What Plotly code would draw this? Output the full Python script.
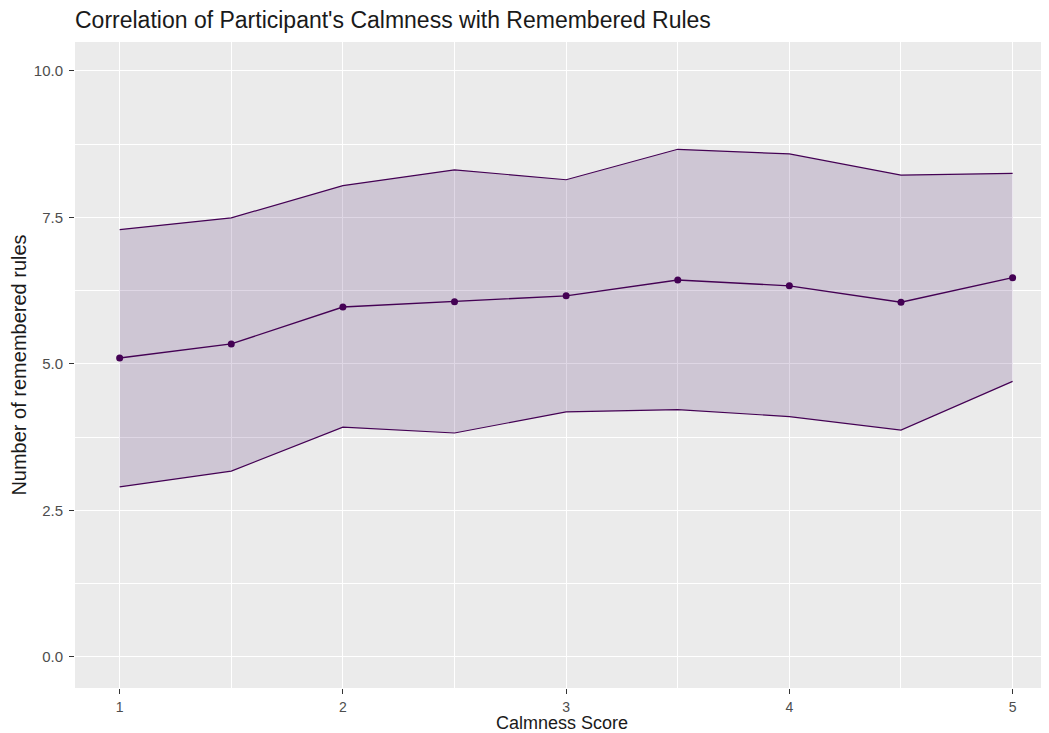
import plotly.graph_objects as go

calmness = [1, 1.5, 2, 2.5, 3, 3.5, 4, 4.5, 5]
mean_rules = [5.10, 5.34, 5.97, 6.06, 6.16, 6.43, 6.33, 6.05, 6.47]
upper_rules = [7.29, 7.49, 8.04, 8.31, 8.14, 8.66, 8.58, 8.22, 8.25]
lower_rules = [2.90, 3.17, 3.92, 3.82, 4.18, 4.22, 4.10, 3.87, 4.70]

x_ticks = [1, 2, 3, 4, 5]
y_ticks = [0.0, 2.5, 5.0, 7.5, 10.0]
y_tick_labels = ["0.0", "2.5", "5.0", "7.5", "10.0"]

purple = "#440154"

fig = go.Figure()
fig.add_trace(go.Scatter(x=calmness, y=lower_rules, mode="lines",
                         line=dict(color=purple, width=1.2), showlegend=False, hoverinfo="skip"))
fig.add_trace(go.Scatter(x=calmness, y=upper_rules, mode="lines",
                         line=dict(color=purple, width=1.2), fill="tonexty",
                         fillcolor="rgba(80,35,110,0.18)", showlegend=False, hoverinfo="skip"))
fig.add_trace(go.Scatter(x=calmness, y=mean_rules, mode="lines+markers",
                         line=dict(color=purple, width=1.4),
                         marker=dict(color=purple, size=7), showlegend=False))

W, H = 1041, 725
fig.update_layout(
    width=W, height=H,
    margin=dict(l=67, r=0, t=34, b=45),
    paper_bgcolor="white",
    plot_bgcolor="#EBEBEB",
    font=dict(family="Liberation Sans, Arial, sans-serif", color="#1a1a1a"),
    title=dict(text="Correlation of Participant's Calmness with Remembered Rules",
               x=67/W, xanchor="left", y=1 - 12/H, yanchor="middle",
               font=dict(size=23, color="#1a1a1a")),
)
fig.update_xaxes(
    range=[0.8, 5.163], tickvals=x_ticks, ticktext=[str(v) for v in x_ticks],
    showgrid=True, gridcolor="white", gridwidth=1.2, zeroline=False,
    minor=dict(dtick=0.5, tick0=0.5, showgrid=True, gridcolor="white", gridwidth=0.5, ticklen=0),
    ticks="outside", ticklen=5, tickcolor="#333333", tickwidth=1,
    ticklabelstandoff=1,
    tickfont=dict(size=14, color="#4d4d4d"),
    title=dict(text="Calmness Score", font=dict(size=18, color="#1a1a1a"), standoff=3),
    showline=False,
)
fig.update_yaxes(
    range=[-0.53, 10.49], tickvals=y_ticks, ticktext=y_tick_labels,
    showgrid=True, gridcolor="white", gridwidth=1.2, zeroline=False,
    minor=dict(dtick=2.5, tick0=1.25, showgrid=True, gridcolor="white", gridwidth=0.5, ticklen=0),
    ticks="outside", ticklen=5, tickcolor="#333333", tickwidth=1,
    ticklabelstandoff=3,
    tickfont=dict(size=15, color="#4d4d4d"),
    title=dict(text="Number of remembered rules", font=dict(size=20, color="#1a1a1a"), standoff=5),
    showline=False,
)

fig.write_html("out.html")
